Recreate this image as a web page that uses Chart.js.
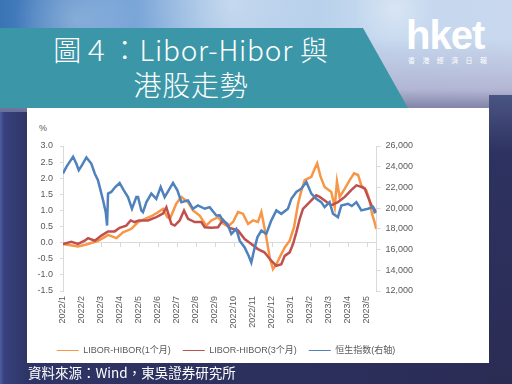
<!DOCTYPE html>
<html>
<head>
<meta charset="utf-8">
<script src="https://cdn.jsdelivr.net/npm/chart.js@4.4.1/dist/chart.umd.min.js"></script>
<style>
html, body { margin: 0; padding: 0; }
body {
    width: 512px; height: 384px; overflow: hidden; position: relative;
    background: linear-gradient(90deg, #4d5ea2 0px, #37417f 4px, #2e3465 28px, #2a2c55 100%);
    font-family: 'Noto Sans CJK TC', sans-serif;
}
#sky {
    position: absolute; left: 0; top: 0; width: 512px; height: 112px;
    background:
        radial-gradient(circle at 75px 20px, rgba(255,255,255,0.25) 0, rgba(255,255,255,0.1) 40px, rgba(255,255,255,0) 60px),
        radial-gradient(circle at 230px 5px, rgba(255,255,255,0.35) 0, rgba(255,255,255,0) 90px),
        radial-gradient(circle at 395px 10px, rgba(255,255,255,0.35) 0, rgba(255,255,255,0) 40px),
        linear-gradient(90deg, #3a74b6 0%, #6b9bd3 20%, #a6c4e6 45%, #c2d7ee 70%, #c9d8ee 100%);
}
#sky::after {
    content: ''; position: absolute; inset: 0;
    background: linear-gradient(180deg, rgba(255,255,255,0) 35%, rgba(170,168,200,0.7) 80%, rgba(110,110,150,0.9) 100%);
}
#rightEdge {
    position: absolute; left: 489px; top: 95px; width: 23px; height: 289px;
    background: linear-gradient(180deg, #4a5584 0%, #2e3260 20%, #2a2c54 100%);
}
#banner {
    position: absolute; left: 0; top: 28px; width: 408px; height: 80px;
    background: #3b97a8;
    clip-path: polygon(0 0, 363px 0, 408px 80px, 0 80px);
}
#title {
    position: absolute; left: 0; top: 32px; width: 382px;
    text-align: center; color: #fff; font-size: 28px; line-height: 35px;
    letter-spacing: 0.8px; font-weight: 300;
}
#logo {
    position: absolute; left: 406px; top: 11px; color: #fff;
    font-family: 'Liberation Sans', sans-serif; font-weight: bold;
    font-size: 40px; letter-spacing: -1px; line-height: 48px;
}
#logoSub {
    position: absolute; left: 408px; top: 56px; color: #fff;
    font-size: 7px; letter-spacing: 7.4px; line-height: 9px;
}
#panel {
    position: absolute; left: 27px; top: 108px; width: 462px; height: 255px;
    background: #fff;
}
#pct {
    position: absolute; left: 39px; top: 123px; color: #595959;
    font-family: 'Liberation Sans', sans-serif; font-size: 9px;
}
#box {
    position: absolute; left: 30px; top: 108px; width: 392px; height: 260px;
}
#source {
    position: absolute; left: 28px; top: 363px; color: #fff;
    font-size: 13.5px; line-height: 18px;
}
</style>
</head>
<body>
<div id="sky"></div>
<div id="rightEdge"></div>
<div id="banner"></div>
<div id="title">圖４：Libor-Hibor 與<br>港股走勢</div>
<div id="logo">hket</div>
<div id="logoSub">香港經濟日報</div>
<div id="panel"></div>
<div id="pct">%</div>
<div id="box"><canvas id="chart"></canvas></div>
<div id="source">資料來源：Wind，東吳證券研究所</div>

<script>
// 月份刻度 (0 = 2022/1 月初)
const monthLabels = ['2022/1', '2022/2', '2022/3', '2022/4', '2022/5', '2022/6', '2022/7', '2022/8',
    '2022/9', '2022/10', '2022/11', '2022/12', '2023/1', '2023/2', '2023/3', '2023/4', '2023/5'];

// LIBOR-HIBOR(1个月), %
const libor1mMonths = [0, 0.4, 0.79, 1.32, 1.84, 2.19, 2.37, 2.81, 3.16, 3.6, 3.95, 4.4, 4.65, 5.02, 5.26, 5.49,
    5.63, 5.96, 6.23, 6.58, 6.84, 7.19, 7.54, 7.81, 8.16, 8.42, 8.68, 8.95, 9.21, 9.47, 9.74, 10.0, 10.26, 10.44,
    10.53, 10.7, 10.88, 11.05, 11.23, 11.4, 11.67, 11.93, 12.16, 12.37, 12.54, 12.72, 13.07, 13.25, 13.38, 13.56,
    13.77, 14.12, 14.3, 14.42, 14.56, 14.83, 15.09, 15.32, 15.53, 15.7, 15.96, 16.14, 16.26, 16.37, 16.49];
const libor1mValues = [-0.04, -0.08, -0.12, -0.04, 0.06, 0.17, 0.24, 0.14, 0.32, 0.43, 0.64, 0.76, 0.82, 0.95, 1.05, 0.79,
    0.74, 1.21, 1.42, 1.26, 1.0, 0.84, 0.53, 0.69, 0.79, 0.6, 0.5, 0.64, 0.95, 0.9, 0.58, 0.69, 0.64, 0.95,
    0.69, 0.17, -0.46, -0.82, -0.67, -0.46, -0.15, 0.06, 0.48, 1.2, 1.6, 1.94, 2.04, 2.3, 2.46, 2.04,
    1.73, 1.57, 1.1, 1.9, 1.42, 1.68, 1.94, 2.15, 2.1, 1.78, 1.63, 1.31, 0.9, 0.69, 0.43];

// LIBOR-HIBOR(3个月), %
const libor3mMonths = [0, 0.44, 0.79, 1.14, 1.32, 1.67, 2.02, 2.37, 2.72, 2.98, 3.33, 3.56, 3.77, 4.0, 4.47, 4.91,
    5.26, 5.44, 5.7, 5.88, 6.14, 6.37, 6.58, 6.93, 7.28, 7.46, 7.81, 8.16, 8.42, 8.77, 9.21, 9.56, 9.91, 10.26,
    10.6, 10.96, 11.23, 11.49, 11.67, 11.93, 12.11, 12.28, 12.46, 12.63, 13.07, 13.33, 13.51, 13.77, 14.12, 14.3,
    14.47, 14.83, 15.17, 15.44, 15.7, 15.88, 16.05, 16.23, 16.37, 16.49];
const libor3mValues = [-0.04, 0.03, -0.04, 0.06, 0.14, 0.06, 0.22, 0.35, 0.35, 0.46, 0.53, 0.69, 0.64, 0.69, 0.69, 0.79,
    0.9, 1.1, 0.58, 0.53, 0.69, 1.0, 0.74, 0.64, 0.64, 0.48, 0.46, 0.48, 0.71, 0.46, 0.38, 0.11, -0.04, -0.2,
    -0.3, -0.56, -0.72, -0.67, -0.41, -0.3, -0.04, 0.32, 0.74, 1.05, 1.31, 1.47, 1.42, 1.31, 1.16, 1.21,
    1.26, 1.42, 1.63, 1.78, 1.73, 1.68, 1.42, 1.16, 1.05, 0.95];

// 恒生指数(右轴)
const hsiMonths = [0, 0.18, 0.35, 0.53, 0.7, 0.83, 1.0, 1.23, 1.49, 1.67, 1.84, 2.11, 2.25, 2.32, 2.37, 2.54,
    2.75, 2.98, 3.2, 3.42, 3.63, 3.86, 3.95, 4.12, 4.21, 4.39, 4.65, 4.91, 5.14, 5.35, 5.56, 5.79, 6.02, 6.23,
    6.58, 6.84, 7.1, 7.46, 7.72, 8.07, 8.25, 8.42, 8.65, 8.86, 9.12, 9.3, 9.56, 9.77, 9.91, 10.05, 10.23, 10.44,
    10.7, 10.96, 11.23, 11.49, 11.84, 12.02, 12.28, 12.54, 12.81, 13.07, 13.33, 13.59, 13.77, 14.03, 14.21, 14.47,
    14.65, 15.0, 15.2, 15.44, 15.7, 16.05, 16.32, 16.4, 16.5];
const hsiValues = [23350, 23990, 24470, 24960, 24310, 23670, 24150, 24900, 24310, 23350, 22700, 20750, 19600, 18320, 21400, 21560,
    22040, 22430, 21720, 21070, 19940, 21070, 21070, 19780, 19610, 20580, 21400, 20900, 22040, 21070, 21720, 22430, 21720, 20580,
    20750, 19940, 20260, 19940, 20100, 19290, 19300, 18800, 18480, 17510, 18000, 16860, 16210, 15400, 14750, 15890, 17180, 17830,
    17510, 18800, 19780, 19450, 19940, 20910, 21560, 21880, 22530, 21400, 20910, 20580, 20100, 20580, 19450, 19130,
    20260, 20420, 20200, 20580, 19780, 19940, 20100, 19610, 19700];

function toPoints(months, values) {
    return months.map((m, i) => ({ x: m, y: values[i] }));
}

// 每个月一个刻度
function monthTicks(scale) {
    scale.ticks = monthLabels.map((l, i) => ({ value: i }));
}

const axisGray = '#d9d9d9';
const textGray = '#595959';
Chart.defaults.font.family = "'Liberation Sans', 'Noto Sans CJK SC', sans-serif";
Chart.defaults.font.size = 9;
Chart.defaults.color = textGray;

let chart = new Chart(document.getElementById('chart'), {
    type: 'line',
    data: {
        datasets: [{
            label: 'LIBOR-HIBOR(1个月)',
            data: toPoints(libor1mMonths, libor1mValues),
            borderColor: '#F79646',
            backgroundColor: '#F79646',
            yAxisID: 'y',
            order: 3
        }, {
            label: 'LIBOR-HIBOR(3个月)',
            data: toPoints(libor3mMonths, libor3mValues),
            borderColor: '#C0504D',
            backgroundColor: '#C0504D',
            yAxisID: 'y1',
            order: 2
        }, {
            label: '恒生指数(右轴)',
            data: toPoints(hsiMonths, hsiValues),
            borderColor: '#4F81BD',
            backgroundColor: '#4F81BD',
            yAxisID: 'y2',
            order: 1
        }]
    },
    options: {
        responsive: true,
        maintainAspectRatio: false,
        animation: false,
        layout: { padding: { top: 38, bottom: 3, left: 0, right: 0 } },
        elements: {
            point: { radius: 0 },
            line: { borderWidth: 2.5, tension: 0 }
        },
        scales: {
            x: {
                type: 'linear',
                min: 0,
                max: 16.5,
                grid: { display: false, drawTicks: false },
                border: { display: false },
                afterBuildTicks: monthTicks,
                ticks: {
                    autoSkip: false,
                    minRotation: 90,
                    maxRotation: 90,
                    padding: 5,
                    callback: v => monthLabels[v]
                },
                afterFit: s => { s.height = 43; }
            },
            x0: {
                type: 'linear',
                min: 0,
                max: 16.5,
                position: { y: 0 },
                afterBuildTicks: monthTicks,
                grid: { display: true, drawOnChartArea: false, drawTicks: true, tickLength: 4, color: axisGray },
                border: { display: true, color: axisGray },
                ticks: { display: false }
            },
            y: {
                position: 'left',
                min: -1.5,
                max: 3.0,
                grid: { drawOnChartArea: false, tickLength: 3, color: axisGray },
                border: { color: axisGray },
                ticks: { stepSize: 0.5, padding: 7, callback: v => v.toFixed(1) },
                afterFit: s => { s.width = 33; }
            },
            y1: {
                display: false,
                min: -1.5,
                max: 3.0
            },
            y2: {
                position: 'right',
                min: 12000,
                max: 26000,
                grid: { drawOnChartArea: false, tickLength: 4, color: axisGray },
                border: { color: axisGray },
                ticks: { stepSize: 2000, padding: 5, callback: v => v.toLocaleString('en-US') },
                afterFit: s => { s.width = 45.5; }
            }
        },
        plugins: {
            legend: {
                position: 'bottom',
                labels: {
                    usePointStyle: true,
                    pointStyle: 'line',
                    pointStyleWidth: 22,
                    padding: 12,
                    color: textGray,
                    sort: (a, b) => a.datasetIndex - b.datasetIndex
                }
            },
            tooltip: { enabled: false }
        }
    }
});
</script>
</body>
</html>
